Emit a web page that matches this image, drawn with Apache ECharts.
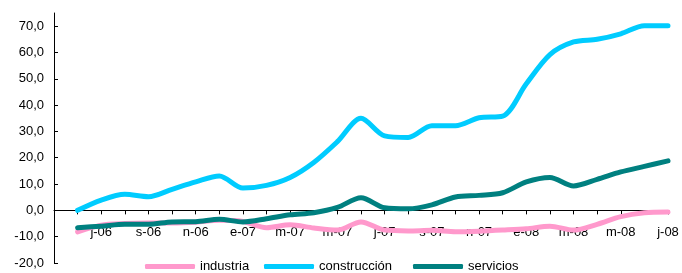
<!DOCTYPE html>
<html>
<head>
<meta charset="utf-8">
<script src="https://cdn.jsdelivr.net/npm/echarts@6/dist/echarts.min.js"></script>
<style>
  html, body { margin: 0; padding: 0; background: #fff; }
  #main { width: 682px; height: 273px; }
</style>
</head>
<body>
<div id="main"></div>
<script>
// months may-06 .. jul-08 (first one has no data)
var months = ['m-06','j-06','j-06','a-06','s-06','o-06','n-06','d-06','e-07','f-07','m-07','a-07','m-07',
  'j-07','j-07','a-07','s-07','o-07','n-07','d-07','e-08','f-08','m-08','a-08','m-08','j-08','j-08'];
var yTicks = [-20, -10, 0, 10, 20, 30, 40, 50, 60, 70];

var industria = [null, -8.2, -5.6, -5.0, -4.8, -4.8, -4.5, -3.8, -4.2, -6.6, -5.5, -6.7, -7.5,
  -4.4, -7.5, -7.8, -7.6, -8.1, -7.9, -7.5, -7.0, -6.0, -7.5, -5.3, -2.4, -0.9, -0.6];
var construccion = [null, 0, 3.9, 6.1, 5.2, 8.0, 10.8, 13.1, 8.5, 9.5, 12.5, 18.2, 26.1,
  35.0, 28.3, 27.7, 32.2, 32.2, 35.2, 35.8, 48.1, 59.2, 64.0, 65.0, 67.1, 70.2, 70.2];
var servicios = [null, -6.6, -6.0, -5.3, -5.3, -4.4, -4.3, -3.4, -4.4, -3.2, -1.7, -0.9, 1.1,
  4.8, 1.0, 0.6, 2.1, 5.1, 5.7, 6.7, 10.8, 12.5, 9.3, 11.8, 14.6, 16.7, 18.8];

var font = "'Liberation Sans', Arial, sans-serif";
var chart = echarts.init(document.getElementById('main'), null, { renderer: 'canvas' });

var gridTop = 13, gridBottom = 10, yMin = -20, yMax = 75;
// move the category axis up to the zero line
var plotH = 273 - gridTop - gridBottom;
var zeroOffset = -plotH * (0 - yMin) / (yMax - yMin);

function lineSeries(name, data, color) {
  return {
    name: name,
    type: 'line',
    data: data,
    symbol: 'none',
    smooth: 0.3,
    color: color,
    lineStyle: { width: 5, color: color, cap: 'round', join: 'round' }
  };
}

function legendItem(name, left) {
  return {
    data: [name],
    left: left,
    top: 260,
    padding: 0,
    icon: 'roundRect',
    itemWidth: 50,
    itemHeight: 5,
    textStyle: { fontFamily: font, fontSize: 13, color: '#000' }
  };
}

var option = {
  animation: false,
  legend: [
    legendItem('industria', 145),
    legendItem('construcción', 264),
    legendItem('servicios', 413)
  ],
  grid: { left: 54, right: 14, top: gridTop, bottom: gridBottom, containLabel: false, outerBoundsMode: 'none' },
  xAxis: {
    type: 'category',
    data: months,
    boundaryGap: false,
    offset: zeroOffset,
    z: 3,
    axisLine: { onZero: false, lineStyle: { color: '#000', width: 1 } },
    axisTick: { interval: 0, length: 4, lineStyle: { color: '#000' } },
    axisLabel: {
      interval: function (i) { return i > 0 && i % 2 === 0; },
      margin: 16,
      fontFamily: font,
      fontSize: 13,
      color: '#000'
    },
    splitLine: { show: false }
  },
  yAxis: {
    type: 'value',
    min: yMin,
    max: yMax,
    interval: 10,
    axisLine: { show: true, onZero: false, lineStyle: { color: '#000', width: 1 } },
    axisTick: { show: true, inside: true, length: 4, customValues: yTicks, lineStyle: { color: '#000' } },
    axisLabel: {
      customValues: yTicks,
      margin: 10,
      fontFamily: font,
      fontSize: 13,
      color: '#000',
      formatter: function (v) { return v.toFixed(1).replace('.', ','); }
    },
    splitLine: { show: false }
  },
  series: [
    lineSeries('industria', industria, '#FF99CC'),
    lineSeries('construcción', construccion, '#00CCFF'),
    lineSeries('servicios', servicios, '#008080')
  ]
};

chart.setOption(option);
</script>
</body>
</html>
